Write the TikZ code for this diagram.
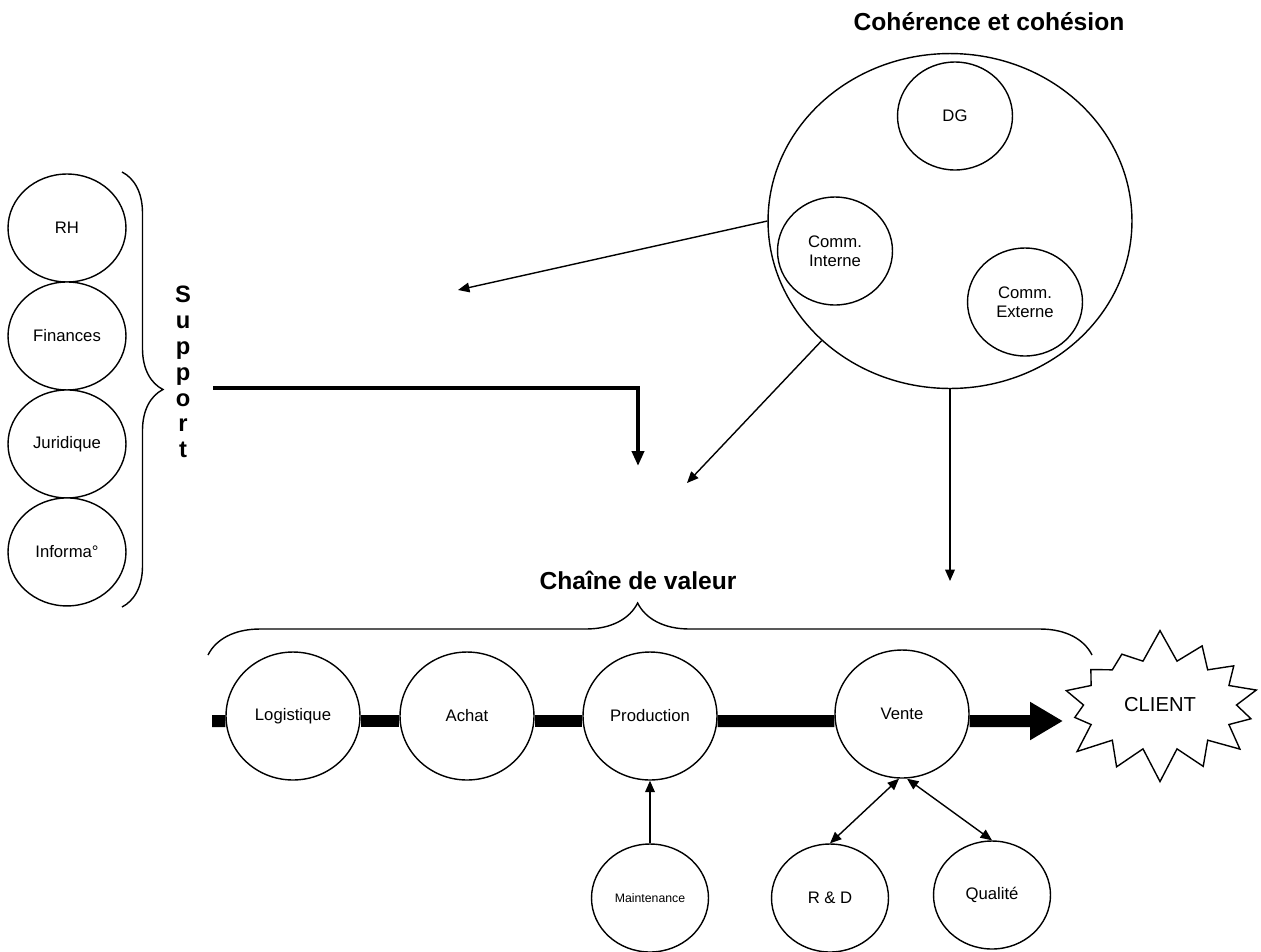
\documentclass[tikz,border=0pt]{standalone}
\usepackage{fontspec}
\setmainfont{Liberation Sans}
\usetikzlibrary{shapes,arrows}
\usetikzlibrary{arrows.meta}
\usetikzlibrary{decorations.pathreplacing}
\tikzset{%
  bubble/.style   = {draw, ellipse, fill=white, align=center, inner sep=0pt,
    font=\fontsize{9.5}{11}\selectfont},
  sidebub/.style  = {bubble, minimum width=2.36cm, minimum height=2.16cm}, % Support
  innerbub/.style = {bubble, minimum width=2.3cm, minimum height=2.16cm}, % DG, Comm.
  chainbub/.style = {bubble, minimum width=2.68cm, minimum height=2.56cm}, % Chaine
  lowbub/.style   = {bubble, minimum width=2.34cm, minimum height=2.16cm},
  head/.style     = {font=\bfseries\fontsize{14}{17}\selectfont},
  burst/.style    = {draw, starburst, starburst points=14, starburst point height=0.65cm,
    random starburst=7, fill=white, minimum width=4.36cm, minimum height=3.1cm,
    font=\fontsize{11.5}{13}\selectfont},
  curly/.style    = {decorate, decoration={brace, amplitude=#1}},
  flow/.style     = {line width=0.24cm, -{Triangle[length=0.66cm,width=0.72cm]}},
  feed/.style     = {line width=2.3pt, -{Triangle[length=0.3cm,width=0.24cm]}}
}
\begin{document}
\begin{tikzpicture}[x=0.02cm, y=-0.02cm, thick, node distance=2.16cm,
    >={Triangle[length=6.5pt,width=5.5pt]}]
    \useasboundingbox (0,0) rectangle (1261,951);
        % coherence et cohesion
        \draw
        node at(989,22)[head, name=CohTitle]{Cohérence et cohésion}
        node at(950,221)[bubble, minimum width=7.28cm, minimum height=6.7cm, name=Coh]{}
        node at(955,116)[innerbub, name=DG]{DG}
        node at(835,251)[innerbub, name=CommInt]{Comm.\\Interne}
        node at(1025,302)[innerbub, name=CommExt]{Comm.\\Externe};
        % support
        \draw
        node at(67,228)[sidebub, name=RH]{RH}
        node [sidebub, name=Fin, below of=RH]{Finances}
        node [sidebub, name=Jur, below of=Fin]{Juridique}
        node [sidebub, name=Info, below of=Jur]{Informa°};
        \draw[curly=0.82cm] (122,172) -- (122,607);
        \node at(183,372)[align=center, font=\bfseries\fontsize{13.5}{14.7}\selectfont, name=Supp]{S\\u\\p\\p\\o\\r\\t};
        % chaine de valeur
        \draw
        node at(638,580)[head, name=ChainTitle]{Chaîne de valeur}
        node at(293,716)[chainbub, name=Logi]{Logistique}
        node at(467,716)[chainbub, name=Achat]{Achat}
        node at(650,716)[chainbub, name=Prod]{Production}
        node at(902,714)[chainbub, name=Vente]{Vente}
        node at(1160,705)[burst, name=Client]{CLIENT}
        node at(650,898)[lowbub, font=\fontsize{7}{8}\selectfont, name=Maint]{Maintenance}
        node at(830,898)[lowbub, name=RD]{R \& D}
        node at(992,895)[lowbub, name=Qual]{Qualité};
        \draw[curly=1.04cm, decoration={aspect=0.486}] (208,655) -- (1092,655);
        \coordinate (Start) at (212,721);
        \coordinate (ClientIn) at (1063,721);
        \draw[flow, -] (Start) -- ([yshift=-0.1cm]Logi.west);
        \draw[flow, -] ([yshift=-0.1cm]Logi.east) -- ([yshift=-0.1cm]Achat.west);
        \draw[flow, -] ([yshift=-0.1cm]Achat.east) -- ([yshift=-0.1cm]Prod.west);
        \draw[flow, -] ([yshift=-0.1cm]Prod.east) -- ([yshift=-0.14cm]Vente.west);
        \draw[flow] ([yshift=-0.14cm]Vente.east) -- (ClientIn);
        % liens
        \coordinate (SuppOut) at (213,388);
        \coordinate (ChainIn) at (638,466);
        \draw[feed] (SuppOut) -| (ChainIn);
        \coordinate (Aim1) at (458,290);
        \coordinate (Aim2) at (687,483);
        \coordinate (Aim3) at (950,581);
        \draw[->] (Coh.west) -- (Aim1);
        \draw[->] (Coh.223) -- (Aim2);
        \draw[->] (Coh.south) -- (Aim3);
        \draw[->] (Maint) -- (Prod);
        \draw[<->] (RD.north) -- ([xshift=-0.06cm]Vente.south);
        \draw[<->] ([xshift=0.1cm]Vente.south) -- (Qual.north);
    \end{tikzpicture}
\end{document}
